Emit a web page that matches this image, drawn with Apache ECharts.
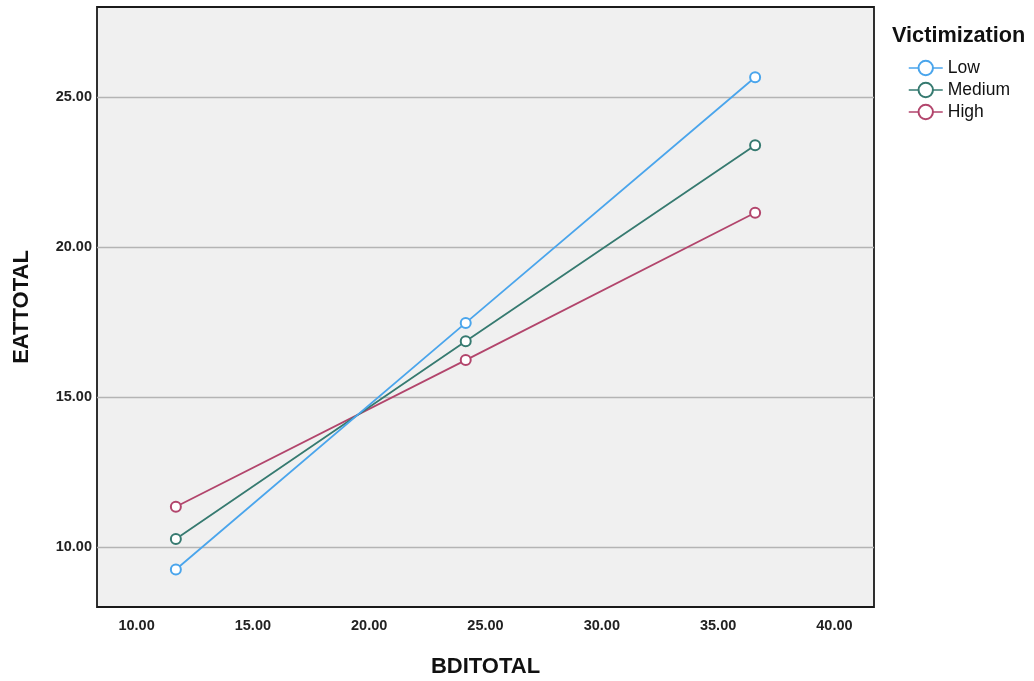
<!DOCTYPE html>
<html>
<head>
<meta charset="utf-8">
<script src="https://cdn.jsdelivr.net/npm/echarts@6/dist/echarts.min.js"></script>
<style>
  html, body { margin: 0; padding: 0; background: #ffffff; }
  #chart { width: 1034px; height: 681px; }
</style>
</head>
<body>
<div id="chart"></div>
<script>
// BDITOTAL levels at which estimated EATTOTAL is plotted
const bdiLevels = [11.69, 24.15, 36.59];

// Estimated EATTOTAL per victimization group
const lowValues = [9.25, 17.47, 25.66];
const mediumValues = [10.27, 16.86, 23.39];
const highValues = [11.34, 16.23, 21.14];

const groupNames = ['Low', 'Medium', 'High'];
const groupColors = ['#4aa5ec', '#367a70', '#b2456c'];

// Tick labels
const xTicks = [10, 15, 20, 25, 30, 35, 40];
const yTicks = [10, 15, 20, 25];

const seriesValues = [lowValues, mediumValues, highValues];
const font = '"Liberation Sans", Arial, sans-serif';

const chart = echarts.init(document.getElementById('chart'));
chart.setOption({
  animation: false,
  backgroundColor: '#ffffff',
  title: {
    text: 'Victimization',
    left: 887,
    top: 20,
    textStyle: { fontFamily: font, fontSize: 21.7, fontWeight: 'bold', color: '#111111' }
  },
  legend: {
    orient: 'vertical',
    left: 903,
    top: 54,
    itemWidth: 34,
    itemHeight: 18,
    itemGap: 4,
    itemStyle: { borderWidth: 1.5 },
    lineStyle: { width: 1.5 },
    textStyle: { fontFamily: font, fontSize: 17.5, color: '#111111' },
    data: groupNames
  },
  grid: {
    left: 97,
    right: 160,
    top: 7,
    bottom: 74,
    outerBoundsMode: 'none',
    containLabel: false,
    show: true,
    backgroundColor: '#f0f0f0',
    borderColor: '#1a1a1a',
    borderWidth: 1.8
  },
  xAxis: {
    type: 'value',
    min: 8.3,
    max: 41.7,
    name: 'BDITOTAL',
    nameLocation: 'middle',
    nameGap: 49,
    nameTextStyle: { fontFamily: font, fontSize: 22, fontWeight: 'bold', color: '#111111' },
    axisLine: { show: false },
    axisTick: { show: false, customValues: xTicks },
    splitLine: { show: false },
    axisLabel: {
      customValues: xTicks,
      margin: 11,
      fontFamily: font,
      fontSize: 14.5,
      fontWeight: 'bold',
      color: '#222222',
      formatter: v => v.toFixed(2)
    }
  },
  yAxis: {
    type: 'value',
    min: 8.0,
    max: 28.0,
    name: 'EATTOTAL',
    nameLocation: 'middle',
    nameGap: 64,
    nameTextStyle: { fontFamily: font, fontSize: 22, fontWeight: 'bold', color: '#111111' },
    axisLine: { show: false },
    axisTick: { show: false, customValues: yTicks },
    splitLine: { show: true, lineStyle: { color: '#b4b4b4', width: 1.3 } },
    axisLabel: {
      customValues: yTicks,
      margin: 5,
      fontFamily: font,
      fontSize: 14.5,
      fontWeight: 'bold',
      color: '#222222',
      formatter: v => v.toFixed(2)
    }
  },
  series: groupNames.map((name, i) => ({
    name: name,
    type: 'line',
    data: bdiLevels.map((x, j) => [x, seriesValues[i][j]]),
    symbol: 'emptyCircle',
    symbolSize: 10,
    color: groupColors[i],
    lineStyle: { width: 1.8, color: groupColors[i] },
    itemStyle: { color: groupColors[i], borderColor: groupColors[i], borderWidth: 1.6 },
    z: 3 - i
  }))
});
</script>
</body>
</html>
